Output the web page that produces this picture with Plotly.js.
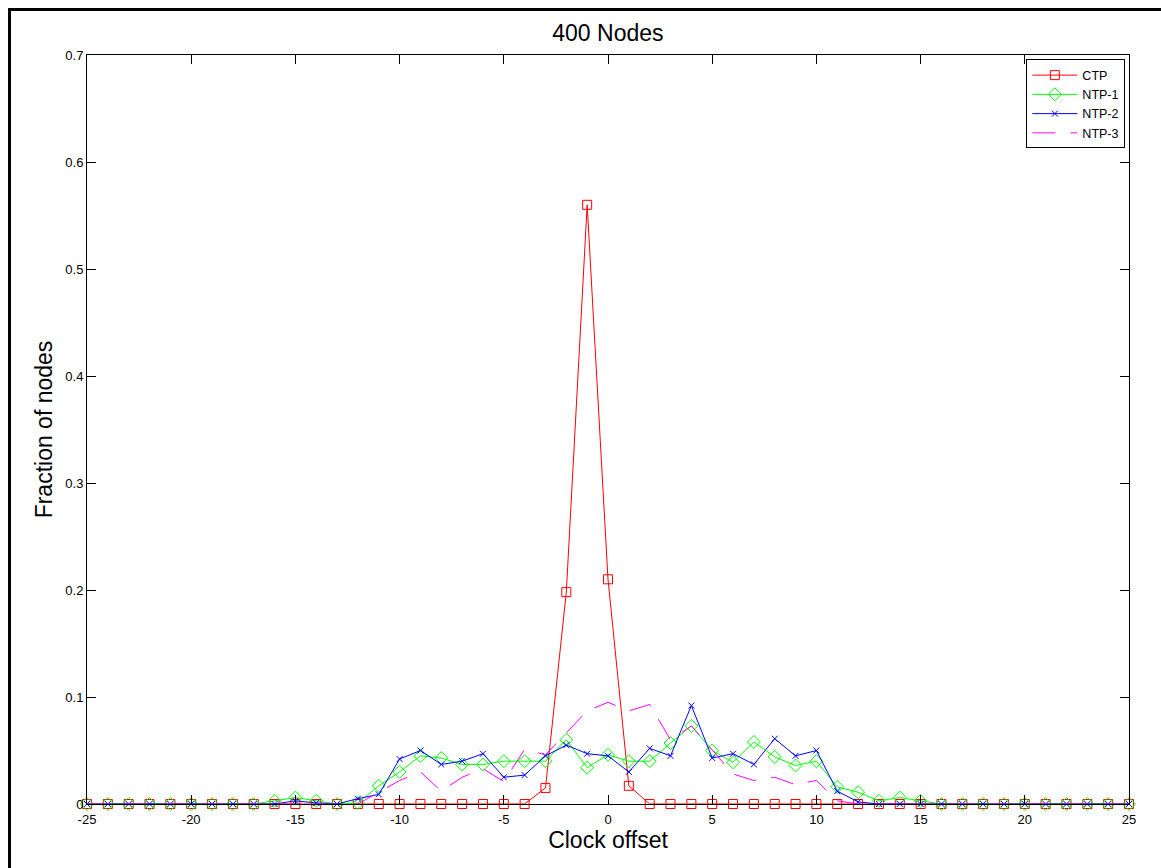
<!DOCTYPE html>
<html>
<head>
<meta charset="utf-8">
<script src="https://cdn.plot.ly/plotly-3.0.1.min.js"></script>
<style>
  html, body { margin: 0; padding: 0; background: #fff; }
  #chart { position: absolute; left: 0; top: 0; width: 1161px; height: 868px; }
  #frame { position: absolute; left: 8px; top: 8px; width: 1200px; height: 900px;
           border-left: 3px solid #000; border-top: 3px solid #000; pointer-events: none; }
</style>
</head>
<body>
<div id="chart"></div>
<div id="frame"></div>
<script>
const clockOffset = [-25,-24,-23,-22,-21,-20,-19,-18,-17,-16,-15,-14,-13,-12,-11,-10,-9,-8,-7,-6,-5,-4,-3,-2,-1,
  0,1,2,3,4,5,6,7,8,9,10,11,12,13,14,15,16,17,18,19,20,21,22,23,24,25];

const ctp = [0,0,0,0,0,0,0,0,0,0,0,0,0,0,0,0,0,0,0,0,0,0,0.015,0.198,0.560,
  0.210,0.017,0,0,0,0,0,0,0,0,0,0,0,0,0,0,0,0,0,0,0,0,0,0,0,0];

const ntp1 = [0,0,0,0,0,0,0,0,0,0.003,0.006,0.003,0,0.001,0.017,0.030,0.045,0.043,0.037,0.037,0.040,0.040,0.040,0.060,0.034,
  0.046,0.040,0.040,0.057,0.073,0.050,0.039,0.058,0.044,0.036,0.040,0.016,0.011,0.003,0.006,0.003,0,0,0,0,0,0,0,0,0,0];

const ntp2 = [0,0,0,0,0,0,0,0,0,0,0.003,0.001,0,0.005,0.009,0.042,0.050,0.037,0.040,0.047,0.025,0.027,0.045,0.055,0.047,
  0.045,0.030,0.052,0.045,0.092,0.043,0.047,0.037,0.061,0.045,0.050,0.012,0.002,0,0,0,0,0,0,0,0,0,0,0,0,0];

const ntp3 = [0,0,0,0,0,0,0,0,0,0,0,0,0,0,0.011,0.022,0.030,0.012,0.025,0.033,0.021,0.051,0.046,0.066,0.087,
  0.095,0.087,0.093,0.060,0.073,0.050,0.028,0.022,0.025,0.018,0.022,0.003,0,0,0,0,0,0,0,0,0,0,0,0,0,0];

const xTicks = [-25,-20,-15,-10,-5,0,5,10,15,20,25];
const yTicks = [0,0.1,0.2,0.3,0.4,0.5,0.6,0.7];
const yTickText = ['0','0.1','0.2','0.3','0.4','0.5','0.6','0.7'];

const traces = [
  { x: clockOffset, y: ctp, name: 'CTP', mode: 'lines+markers', cliponaxis: false,
    line: { color: '#ff0000', width: 1 },
    marker: { symbol: 'square-open', size: 9, color: '#ff0000', line: { width: 1, color: '#ff0000' } } },
  { x: clockOffset, y: ntp1, name: 'NTP-1', mode: 'lines+markers', cliponaxis: false,
    line: { color: '#00ff00', width: 1 },
    marker: { symbol: 'diamond-open', size: 10, color: '#00ff00', line: { width: 1, color: '#00ff00' } } },
  { x: clockOffset, y: ntp2, name: 'NTP-2', mode: 'lines+markers', cliponaxis: false,
    line: { color: '#0000ff', width: 1 },
    marker: { symbol: 'x-thin-open', size: 6, color: '#0000ff', line: { width: 1, color: '#0000ff' } } },
  { x: clockOffset, y: ntp3, name: 'NTP-3', mode: 'lines', cliponaxis: false,
    line: { color: '#ff00ff', width: 1, dash: '23px,15px' } }
];

const axisFont = { family: 'Liberation Sans, Arial, sans-serif', size: 13, color: '#000' };

const layout = {
  width: 1161, height: 868,
  margin: { l: 87, r: 32, t: 55, b: 64, pad: 0 },
  paper_bgcolor: '#ffffff', plot_bgcolor: '#ffffff',
  font: { family: 'Liberation Sans, Arial, sans-serif', color: '#000' },
  title: { text: '400 Nodes', font: { size: 23, color: '#000' },
           x: 0.5236, xanchor: 'center', y: 1 - 33/868, yanchor: 'middle', yref: 'container' },
  xaxis: {
    range: [-25, 25], tickvals: xTicks, ticktext: xTicks.map(String),
    ticks: 'inside', ticklen: 9, tickwidth: 1, tickcolor: '#000',
    showline: true, linecolor: '#000', linewidth: 1, mirror: 'ticks',
    showgrid: false, zeroline: false, tickfont: axisFont, ticklabelstandoff: 3,
    title: { text: 'Clock offset', font: { size: 23, color: '#000' }, standoff: 4 }
  },
  yaxis: {
    range: [0, 0.7], tickvals: yTicks, ticktext: yTickText,
    ticks: 'inside', ticklen: 9, tickwidth: 1, tickcolor: '#000',
    showline: true, linecolor: '#000', linewidth: 1, mirror: 'ticks',
    showgrid: false, zeroline: false, tickfont: axisFont,
    title: { text: 'Fraction of nodes', font: { size: 23, color: '#000' }, standoff: 6 }
  },
  showlegend: true,
  legend: {
    x: 0.9965, xanchor: 'right', y: 0.994, yanchor: 'top',
    bgcolor: '#ffffff', bordercolor: '#000', borderwidth: 1,
    font: { size: 12.5, color: '#000' }, tracegroupgap: 0, itemwidth: 45
  }
};

Plotly.newPlot('chart', traces, layout, { displayModeBar: false, staticPlot: true });
</script>
</body>
</html>
